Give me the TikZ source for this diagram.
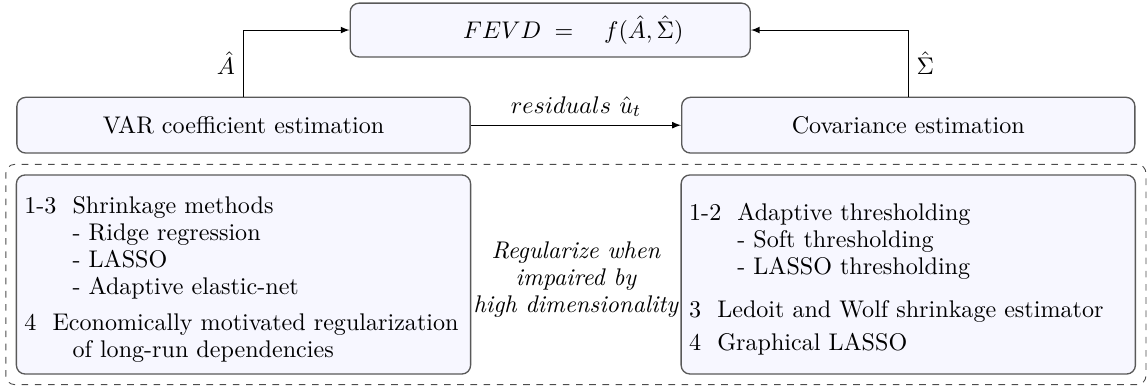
\documentclass[11pt,tikz,border=0pt]{standalone}
\usepackage{amsmath}
\usepackage{xcolor}
\usepackage{tikz}
\usetikzlibrary{positioning}
\usetikzlibrary{fit}
\tikzset{%
  estimBox/.style={rectangle, rounded corners=4pt, draw=black!65, fill=blue!3, semithick, minimum width=7.24cm, minimum height=0.89cm, align=center},
  resultBox/.style={rectangle, rounded corners=4pt, draw=black!65, fill=blue!3, semithick, minimum width=6.39cm, minimum height=0.86cm, align=center},
  % ---
  % regularization methods
  % ---
  methodBox/.style={rectangle, rounded corners=4pt, draw=black!65, fill=blue!3, semithick, text width=7.0cm, minimum height=3.18cm, align=left},
  regFrame/.style={rectangle, rounded corners=4pt, draw=black!70, dashed, inner sep=4.5pt}}

\begin{document}
\fontsize{10.95pt}{12.3pt}\selectfont
\begin{tikzpicture}[]
    \useasboundingbox (0,0) rectangle (18.34,-6.18);

    \node[resultBox] (fevd) at (8.79,-0.48) {\hspace*{21pt}$FEVD\;=\quad f(\hat{A},\hat{\Sigma})$};

    \node[estimBox] (var) at (3.89,-2.0) {VAR coefficient estimation};
    \node[estimBox] (cov) at (14.51,-2.0) {Covariance estimation};

    \draw[-latex] (var.north) |- node[pos=0.25,left]{$\hat{A}$} (fevd.west);
    \draw[-latex] (cov.north) |- node[pos=0.25,right]{$\hat{\Sigma}$} (fevd.east);
    \draw[-latex] (var) -- node[above]{$residuals\ \hat{u}_t$} (cov);

    \node[methodBox] (shrink) at (3.89,-4.385) {\begin{tabular}{@{}l@{\ \ }l@{}}
        1-3 & \rule{0pt}{14pt}Shrinkage methods\\
            & - Ridge regression\\
            & - LASSO\\
            & - Adaptive elastic-net\\[4pt]
        \multicolumn{2}{@{}l@{}}{4\ \ Economically motivated regularization}\\
            & of long-run dependencies
    \end{tabular}};

    \node[methodBox] (thresh) at (14.51,-4.385) {\begin{tabular}{@{}l@{\ \ }l@{}}
        1-2 & \rule{0pt}{14pt}Adaptive thresholding\\
            & - Soft thresholding\\
            & - LASSO thresholding\\[7pt]
        \multicolumn{2}{@{}l@{}}{3\ \ Ledoit and Wolf shrinkage estimator}\\[3pt]
        \multicolumn{2}{@{}l@{}}{4\ \ Graphical LASSO}
    \end{tabular}};

    \node[align=center, font=\itshape] (regul) at (9.2,-4.46) {Regularize when\\impaired by\\high dimensionality};

    \node[regFrame, fit=(shrink)(thresh)] (frame) {};

    \end{tikzpicture}
\end{document}
